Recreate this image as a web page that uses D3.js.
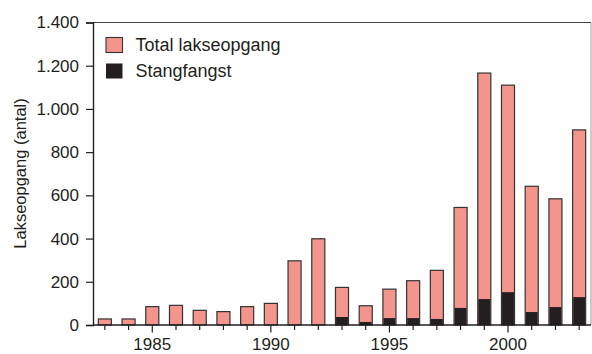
<!DOCTYPE html>
<html>
<head>
<meta charset="utf-8">
<script src="https://cdn.jsdelivr.net/npm/d3@7"></script>
<style>
  html, body { margin: 0; padding: 0; background: #fff; }
  svg { display: block; font-family: "Liberation Sans", Arial, Helvetica, sans-serif; }
</style>
</head>
<body>
<svg id="chart" width="592" height="354"></svg>
<script>
// Salmon run and rod catch per year
const years = [1983, 1984, 1985, 1986, 1987, 1988, 1989, 1990, 1991, 1992, 1993,
               1994, 1995, 1996, 1997, 1998, 1999, 2000, 2001, 2002, 2003];
const totalRun = [28, 28, 85, 91, 68, 62, 85, 100, 297, 399, 174,
                  89, 166, 205, 253, 544, 1166, 1110, 642, 584, 903];
const rodCatch = [0, 0, 0, 0, 0, 0, 0, 0, 0, 0, 37,
                  14, 32, 32, 28, 79, 120, 152, 60, 83, 129];
const yTicks = [0, 200, 400, 600, 800, 1000, 1200, 1400];
const xLabelYears = [1985, 1990, 1995, 2000];
const seriesNames = ["Total lakseopgang", "Stangfangst"];
const yTitle = "Lakseopgang (antal)";

const colTotal = "#f4958d";
const colRod = "#231f20";
const ink = "#231f20";

const svg = d3.select("#chart");
const plotL = 93, plotR = 591, plotT = 22.5, plotB = 325;

const x = d3.scaleBand().domain(years).range([plotL, plotR]).paddingInner(0.45).paddingOuter(0.225);
const y = d3.scaleLinear().domain([0, 1400]).range([plotB, plotT]);

const fmt = v => d3.format(",")(v).replace(/,/g, ".");

// frame (top and right)
svg.append("line").attr("x1", plotL).attr("x2", plotR).attr("y1", plotT).attr("y2", plotT)
  .attr("stroke", "#444").attr("stroke-width", 1.2);
svg.append("line").attr("x1", plotR).attr("x2", plotR).attr("y1", plotT).attr("y2", plotB)
  .attr("stroke", "#999").attr("stroke-width", 1);

// total run bars
svg.append("g").selectAll("rect").data(years).join("rect")
  .attr("x", d => x(d))
  .attr("width", x.bandwidth())
  .attr("y", (d, i) => y(totalRun[i]))
  .attr("height", (d, i) => y(0) - y(totalRun[i]))
  .attr("fill", colTotal)
  .attr("stroke", "#333")
  .attr("stroke-width", 1.2);

// rod catch bars
svg.append("g").selectAll("rect").data(years).join("rect")
  .attr("x", d => x(d) + 0.6)
  .attr("width", x.bandwidth() - 1.2)
  .attr("y", (d, i) => y(rodCatch[i]))
  .attr("height", (d, i) => y(0) - y(rodCatch[i]))
  .attr("fill", colRod);

// y axis
const yAxis = d3.axisLeft(y).tickValues(yTicks).tickFormat(fmt).tickSize(7).tickPadding(7);
const gy = svg.append("g").attr("transform", `translate(${plotL},0)`).call(yAxis);
gy.attr("font-family", null).attr("font-size", null);
gy.select(".domain").attr("stroke", ink).attr("stroke-width", 1.4);
gy.selectAll(".tick line").attr("stroke", ink).attr("stroke-width", 1.2);
gy.selectAll(".tick text").attr("fill", ink).attr("font-size", 17);

// x axis: baseline, yearly minor ticks, longer ticks at labelled years
const gx = svg.append("g").attr("transform", `translate(0,${plotB})`);
gx.append("line").attr("x1", plotL).attr("x2", plotR).attr("stroke", ink).attr("stroke-width", 1.4);
gx.selectAll("line.tk").data(years).join("line").attr("class", "tk")
  .attr("x1", d => x(d) + x.bandwidth() / 2).attr("x2", d => x(d) + x.bandwidth() / 2)
  .attr("y1", 0).attr("y2", d => xLabelYears.includes(d) ? 7.5 : 5)
  .attr("stroke", ink).attr("stroke-width", 1.2);
gx.selectAll("text").data(xLabelYears).join("text")
  .attr("x", d => x(d) + x.bandwidth() / 2)
  .attr("y", 25)
  .attr("text-anchor", "middle")
  .attr("font-size", 17)
  .attr("fill", ink)
  .text(d => d);

// y title
svg.append("text")
  .attr("transform", "translate(26,173.5) rotate(-90)")
  .attr("text-anchor", "middle")
  .attr("font-size", 16.5)
  .attr("fill", ink)
  .text(yTitle);

// legend
const legend = svg.append("g").attr("transform", "translate(106,37.5)");
const legendColors = [colTotal, colRod];
seriesNames.forEach((name, i) => {
  const g = legend.append("g").attr("transform", `translate(0,${i * 26})`);
  g.append("rect").attr("width", 16.5).attr("height", 15)
    .attr("fill", legendColors[i])
    .attr("stroke", i === 0 ? "#333" : "none").attr("stroke-width", 1.1);
  g.append("text").attr("x", 29.5).attr("y", 13.3)
    .attr("font-size", 18).attr("fill", ink).text(name);
});
</script>
</body>
</html>
